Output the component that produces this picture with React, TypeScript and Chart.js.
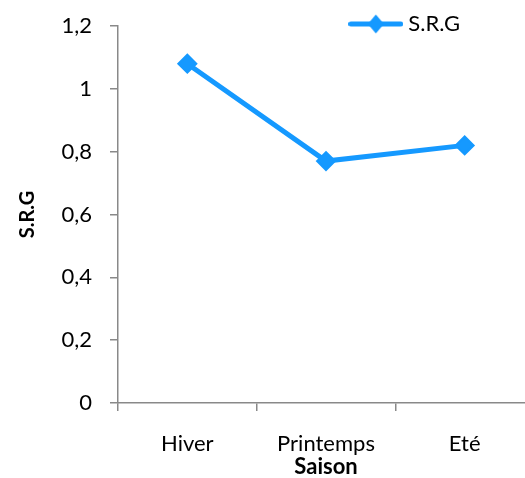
import { useEffect, useRef } from 'react';
import { Chart, registerables } from 'chart.js';

Chart.register(...registerables);

const categories = ['Hiver', 'Printemps', 'Eté'];
const seriesName = 'S.R.G';
const srgValues = [1.08, 0.77, 0.82];
const yTickLabels = ['0', '0,2', '0,4', '0,6', '0,8', '1', '1,2'];
const xTitle = 'Saison';
const yTitle = 'S.R.G';

const BLUE = '#1599FF';
const AXIS = '#898989';
const FONT = 'Lato, "Open Sans", sans-serif';

function legendMarker(): HTMLCanvasElement {
  const c = document.createElement('canvas');
  c.width = 55;
  c.height = 22;
  const g = c.getContext('2d')!;
  g.strokeStyle = BLUE;
  g.lineWidth = 5;
  g.lineCap = 'round';
  g.beginPath();
  g.moveTo(2.5, 11);
  g.lineTo(52.5, 11);
  g.stroke();
  g.fillStyle = BLUE;
  g.beginPath();
  g.moveTo(27.5 - 8, 11);
  g.lineTo(27.5, 1.5);
  g.lineTo(27.5 + 8, 11);
  g.lineTo(27.5, 20.5);
  g.closePath();
  g.fill();
  return c;
}

// place the legend box where the reference has it (overlapping the plot's top band)
const placeLegend = {
  id: 'placeLegend',
  afterLayout(chart: any) {
    const lg = chart.legend;
    if (lg) {
      lg.left -= 74;
      lg.right -= 74;
      lg.top = 13;
      lg.height = 32;
      lg.bottom = lg.top + lg.height;
    }
  },
};

export default function App() {
  const ref = useRef<HTMLCanvasElement | null>(null);

  useEffect(() => {
    if (!ref.current) return;
    const marker = legendMarker();
    const chart = new Chart(ref.current, {
      type: 'line',
      data: {
        labels: categories,
        datasets: [
          {
            label: seriesName,
            data: srgValues,
            borderColor: BLUE,
            backgroundColor: BLUE,
            borderWidth: 5,
            pointStyle: 'rectRot',
            pointRadius: 9,
            pointBorderWidth: 2,
            pointBackgroundColor: BLUE,
            pointBorderColor: BLUE,
            tension: 0,
            clip: false as any,
          },
        ],
      },
      plugins: [placeLegend],
      options: {
        animation: false,
        responsive: false,
        maintainAspectRatio: false,
        layout: { padding: { top: 0, right: 11, left: 0, bottom: 0 } },
        plugins: {
          legend: {
            position: 'top',
            align: 'end',
            maxHeight: 26,
            labels: {
              usePointStyle: true,
              pointStyleWidth: 43,
              padding: 0,
              color: '#000',
              font: { family: FONT, size: 22 },
              generateLabels: () => [
                {
                  text: seriesName,
                  pointStyle: marker as any,
                  fillStyle: BLUE,
                  strokeStyle: BLUE,
                  lineWidth: 0,
                  datasetIndex: 0,
                  hidden: false,
                } as any,
              ],
            },
          },
          tooltip: { enabled: false },
        },
        scales: {
          x: {
            type: 'category',
            offset: true,
            grid: {
              offset: true,
              drawOnChartArea: false,
              tickLength: 8,
              color: AXIS,
              lineWidth: 1.5,
            },
            border: { color: AXIS, width: 1.5 },
            ticks: {
              padding: 20,
              color: '#000',
              maxRotation: 0,
              font: { family: FONT, size: 22 },
            },
            title: {
              display: true,
              text: xTitle,
              color: '#000',
              font: { family: FONT, size: 22, weight: 'bold', lineHeight: 1 },
              padding: 0,
            },
            afterFit: (s: any) => {
              s.height = 75;
              s.paddingLeft = 0;
              s.paddingRight = 0;
            },
          },
          y: {
            min: 0,
            max: 1.2,
            grid: {
              drawOnChartArea: false,
              tickLength: 8,
              color: AXIS,
              lineWidth: 1.5,
            },
            border: { color: AXIS, width: 1.5 },
            ticks: {
              stepSize: 0.2,
              padding: 18,
              color: '#000',
              font: { family: FONT, size: 22 },
              callback: (v: any) => yTickLabels[Math.round(Number(v) / 0.2)] ?? '',
            },
            title: {
              display: true,
              text: yTitle,
              color: '#000',
              font: { family: FONT, size: 20, weight: 'bold' },
              padding: { top: 16, bottom: 0 },
            },
            afterFit: (s: any) => {
              s.width = 118;
              s.paddingTop = 0;
              s.paddingBottom = 0;
            },
          },
        },
      },
    });
    return () => chart.destroy();
  }, []);

  return (
    <div
      style={{
        position: 'fixed',
        left: 0,
        top: 0,
        width: 525,
        height: 478,
        overflow: 'hidden',
        background: '#fff',
      }}
    >
      <canvas ref={ref} width={545} height={478} style={{ display: 'block', width: 545, height: 478 }} />
    </div>
  );
}
